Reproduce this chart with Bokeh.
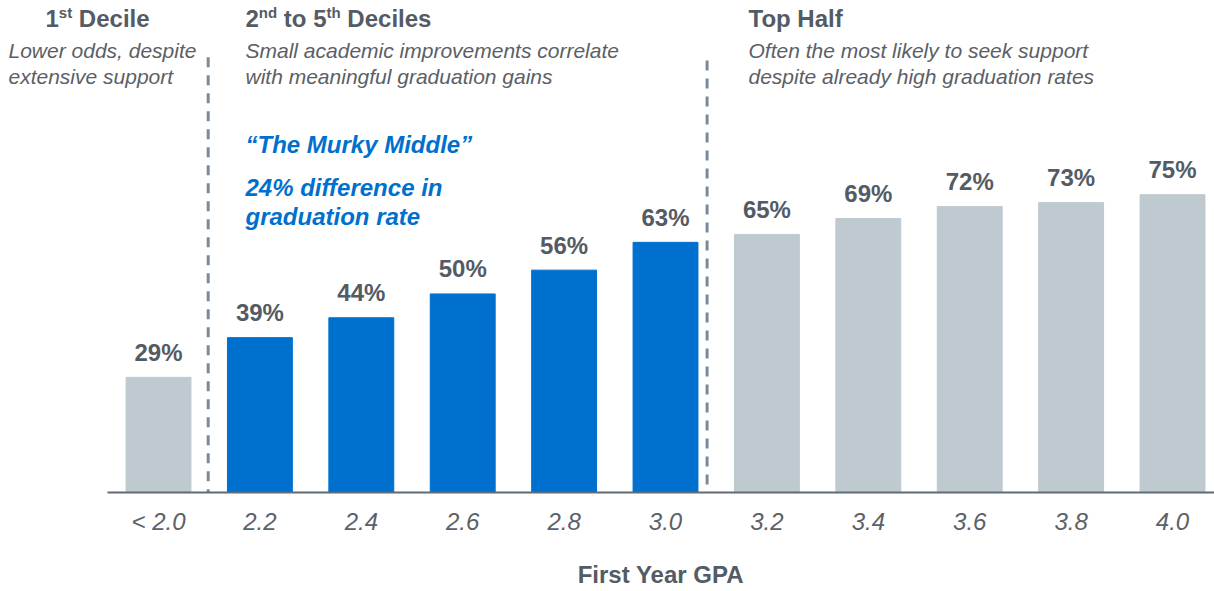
from bokeh.plotting import figure
from bokeh.models import Label, FixedTicker, ColumnDataSource, Range1d
from bokeh.embed import file_html
from bokeh.resources import INLINE
from bokeh.core.properties import value

# ---------------- data ----------------
categories = ["< 2.0", "2.2", "2.4", "2.6", "2.8", "3.0", "3.2", "3.4", "3.6", "3.8", "4.0"]
grad_rates = [29, 39, 44, 50, 56, 63, 65, 69, 72, 73, 75]
groups = ["bottom", "middle", "middle", "middle", "middle", "middle",
          "top", "top", "top", "top", "top"]
x_title = "First Year GPA"

# ---------------- styles ----------------
FONT = "Liberation Sans"
BLUE = "#0070CE"
GRAY_BAR = "#BFC9D0"
DARK = "#535B64"
SUB = "#5B6066"
DASH = "#7A8A99"
group_colors = {"bottom": GRAY_BAR, "middle": BLUE, "top": GRAY_BAR}

xs = list(range(len(categories)))
src = ColumnDataSource(dict(
    x=xs,
    rate=grad_rates,
    label=[f"{v}%" for v in grad_rates],
    color=[group_colors[g] for g in groups],
))

W, H = 1214, 591
FRAME_BOTTOM = 492  # canvas y of the baseline
p = figure(width=W, height=H,
           x_range=Range1d(-1.5582, 10.414), y_range=Range1d(0, 123.9),
           output_backend="svg", toolbar_location=None, y_axis_location=None,
           min_border_left=0, min_border_right=0, min_border_top=0,
           min_border_bottom=H - FRAME_BOTTOM)
p.outline_line_color = None
p.grid.visible = False
p.background_fill_color = "white"
p.border_fill_color = "white"

p.vbar(x="x", top="rate", bottom=0, width=0.64, color="color", source=src)

p.text(x="x", y="rate", text="label", source=src,
       text_align="center", text_baseline="middle", y_offset=-25,
       text_font=value(FONT), text_font_style="bold", text_font_size="24px",
       text_color=DARK)

# group dividers
div_x = [0.49, 5.41]
div_top = [109.6, 108.8]
p.segment(x0=div_x, y0=div_top, x1=div_x, y1=[0, 0], line_color=DASH,
          line_width=3, line_dash="10 8")

# x axis
ax = p.xaxis[0]
ax.ticker = FixedTicker(ticks=xs)
ax.major_label_overrides = {i: c for i, c in zip(xs, categories)}
ax.bounds = (-0.5, 10.414)
ax.axis_line_color = "#5F6A74"
ax.axis_line_width = 2
ax.major_tick_line_color = None
ax.minor_tick_line_color = None
ax.major_tick_out = 0
ax.major_label_standoff = 15
ax.major_label_text_font = FONT
ax.major_label_text_font_style = "italic"
ax.major_label_text_font_size = "24px"
ax.major_label_text_color = "#5B6168"
# the axis title sits right of the frame centre: pad it with no-break spaces
ax.axis_label = "\u00a0" * 16 + x_title
ax.axis_label_standoff = 23
ax.axis_label_text_font = FONT
ax.axis_label_text_font_size = "24px"
ax.axis_label_text_font_style = "bold"
ax.axis_label_text_color = DARK


def lab(text, x, y, size, style, color, align="left", x_off=0, y_off=0):
    p.add_layout(Label(x=x, y=FRAME_BOTTOM - y, x_units="screen", y_units="screen",
                       text=text, text_font=FONT, text_font_size=f"{size}px",
                       text_font_style=style, text_color=color,
                       text_align=align, text_baseline="middle",
                       x_offset=x_off, y_offset=y_off))


# bold Arial/Liberation widths (per 1000 em)
BW = {'1': 556, '2': 556, '5': 556, 's': 556, 't': 333, 'n': 611, 'd': 611,
      'h': 611, ' ': 278, 'o': 611, 'D': 722, 'e': 556, 'c': 556, 'i': 278,
      'l': 278}


def rich(pieces, x, y):
    off = 0.0
    for txt, size, rise in pieces:
        lead = len(txt) - len(txt.lstrip(" "))
        off += lead * BW[' '] / 1000 * size
        core = txt.strip(" ")
        lab(core, x, y, size, "bold", DARK, x_off=off, y_off=rise)
        off += sum(BW.get(ch, 556) for ch in core) / 1000 * size


HY = 18  # header centre line
rich([("1", 24, 0), ("st", 15, 6), (" Decile", 24, 0)], 45, HY)
rich([("2", 24, 0), ("nd", 15, 6), (" to 5", 24, 0), ("th", 15, 6),
      (" Deciles", 24, 0)], 245, HY)
lab("Top Half", 748, HY, 24, "bold", DARK)

S1, S2 = 50, 76
lab("Lower odds, despite", 8, S1, 21, "italic", SUB)
lab("extensive support", 8, S2, 21, "italic", SUB)
lab("Small academic improvements correlate", 245, S1, 21, "italic", SUB)
lab("with meaningful graduation gains", 245, S2, 21, "italic", SUB)
lab("Often the most likely to seek support", 748, S1, 21, "italic", SUB)
lab("despite already high graduation rates", 748, S2, 21, "italic", SUB)

lab("\u201cThe Murky Middle\u201d", 245, 144, 24, "bold italic", BLUE)
lab("24% difference in", 245, 187, 24, "bold italic", BLUE)
lab("graduation rate", 245, 216, 24, "bold italic", BLUE)

open("out.html", "w").write(file_html(p, INLINE))
